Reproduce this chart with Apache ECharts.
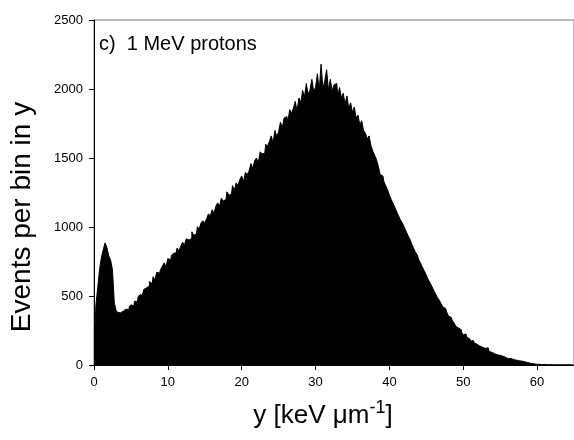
<!DOCTYPE html>
<html>
<head>
<meta charset="utf-8">
<script src="https://cdn.jsdelivr.net/npm/echarts@6/dist/echarts.min.js"></script>
<style>
  html, body { margin: 0; padding: 0; background: #fff; }
  #chart { width: 574px; height: 440px; }
</style>
</head>
<body>
<div id="chart"></div>
<script>
// histogram of y for 1 MeV protons, bins of 0.25 keV/um starting at 0
const binWidth = 0.25;
const counts = [
  260, 430, 560, 690,      // 0
  780, 835, 885, 850,      // 1
  790, 760, 690, 450,      // 2
  395, 380, 378, 392,      // 3
  388, 405, 398, 420,      // 4
  436, 428, 462, 458,      // 5
  498, 512, 496, 548,      // 6
  560, 572, 604, 590,      // 7
  640, 618, 672, 665,      // 8
  690, 715, 740, 712,      // 9
  772, 760, 795, 810,      // 10
  812, 848, 826, 862,      // 11
  890, 870, 915, 905,      // 12
  918, 965, 940, 950,      // 13
  1002, 985, 1030, 1045,   // 14
  1030, 1060, 1095, 1080,  // 15
  1125, 1100, 1150, 1175,  // 16
  1150, 1210, 1188, 1200,  // 17
  1255, 1230, 1240, 1300,  // 18
  1265, 1320, 1300, 1345,  // 19
  1370, 1330, 1395, 1380,  // 20
  1405, 1460, 1425, 1480,  // 21
  1500, 1465, 1545, 1530,  // 22
  1535, 1600, 1585, 1620,  // 23
  1660, 1610, 1700, 1655,  // 24
  1690, 1760, 1720, 1790,  // 25
  1800, 1760, 1850, 1825,  // 26
  1860, 1910, 1840, 1935,  // 27
  1900, 1990, 1940, 2040,  // 28
  1960, 1995, 2070, 1985,  // 29
  2010, 2110, 1990, 2180,  // 30
  2000, 2060, 2140, 1990,  // 31
  2070, 1985, 2030, 2040,  // 32
  1950, 2010, 1935, 1970,  // 33
  1890, 1950, 1860, 1900,  // 34
  1830, 1870, 1790, 1810,  // 35
  1740, 1770, 1700, 1680,  // 36
  1640, 1660, 1590, 1550,  // 37
  1520, 1490, 1440, 1380,  // 38
  1370, 1330, 1300, 1270,  // 39
  1230, 1200, 1170, 1140,  // 40
  1110, 1080, 1050, 1030,  // 41
  1000, 970, 940, 915,     // 42
  880, 850, 820, 800,      // 43
  760, 735, 705, 680,      // 44
  650, 620, 595, 570,      // 45
  540, 515, 490, 470,      // 46
  445, 420, 410, 385,      // 47
  355, 345, 325, 305,      // 48
  280, 268, 255, 240,      // 49
  218, 225, 200, 190,      // 50
  172, 178, 160, 150,      // 51
  138, 142, 128, 120,      // 52
  106, 125, 98, 92,        // 53
  82, 88, 74, 70,          // 54
  61, 64, 55, 52,          // 55
  46, 48, 42, 38,          // 56
  35, 48, 30, 28,          // 57
  24, 22, 18, 14,          // 58
  12, 9, 7, 6,             // 59
  5, 4, 3, 4,              // 60
  3, 2, 2, 3,              // 61
  2, 1, 2, 1,              // 62
  1, 2, 1, 1,              // 63
  1, 1, 0, 1               // 64
];

const xMin = 0, xMax = 65, xStep = 10;
const yMin = 0, yMax = 2500, yStep = 500;
const panelLabel = 'c)  1 MeV protons';

const font = 'Arial, "Liberation Sans", sans-serif';
const chart = echarts.init(document.getElementById('chart'), null, { renderer: 'canvas' });

const seriesData = counts.map((c, i) => [(i + 0.5) * binWidth, c]);

chart.setOption({
  animation: false,
  backgroundColor: '#fff',
  grid: {
    left: 94, top: 20, width: 482, height: 345,
    show: true, borderColor: '#777', borderWidth: 1, backgroundColor: 'transparent'
  },
  xAxis: {
    type: 'value',
    min: xMin, max: xMax, interval: xStep,
    axisLine: { show: true, onZero: false, lineStyle: { color: '#000', width: 1 } },
    axisTick: { show: true, inside: false, length: 5, lineStyle: { color: '#000' } },
    axisLabel: { color: '#000', fontSize: 13, fontFamily: font, margin: 11, showMaxLabel: false },
    splitLine: { show: false }
  },
  yAxis: {
    type: 'value',
    min: yMin, max: yMax, interval: yStep,
    axisLine: { show: true, lineStyle: { color: '#000', width: 1 } },
    axisTick: { show: true, inside: false, length: 5, lineStyle: { color: '#000' } },
    axisLabel: {
      color: '#000', fontSize: 13, fontFamily: font, margin: 11,
      formatter: (v) => String(v)
    },
    splitLine: { show: false }
  },
  series: [{
    type: 'line',
    step: 'middle',
    data: seriesData,
    symbol: 'none',
    lineStyle: { color: '#000', width: 1 },
    areaStyle: { color: '#000', opacity: 1 },
    z: 1
  }],
  graphic: [
    {
      type: 'text', left: 99, top: 34,
      style: { text: panelLabel, fill: '#000', font: '20px ' + font }
    },
    {
      type: 'text', x: 8, y: 217, rotation: Math.PI / 2,
      style: {
        text: 'Events per bin in y', fill: '#000', font: '28px ' + font,
        textAlign: 'center', textVerticalAlign: 'top'
      }
    },
    {
      type: 'text', x: 323, y: 433,
      style: {
        rich: {
          n: { fontSize: 26, fontFamily: font, fill: '#000' },
          s: { fontSize: 18, fontFamily: font, fill: '#000', verticalAlign: 'top', padding: [0, 0, 16, 0] }
        },
        text: '{n|y [keV \u03bcm}{s|-1}{n|]}',
        fill: '#000',
        textAlign: 'center', textVerticalAlign: 'bottom'
      }
    }
  ]
});
</script>
</body>
</html>
